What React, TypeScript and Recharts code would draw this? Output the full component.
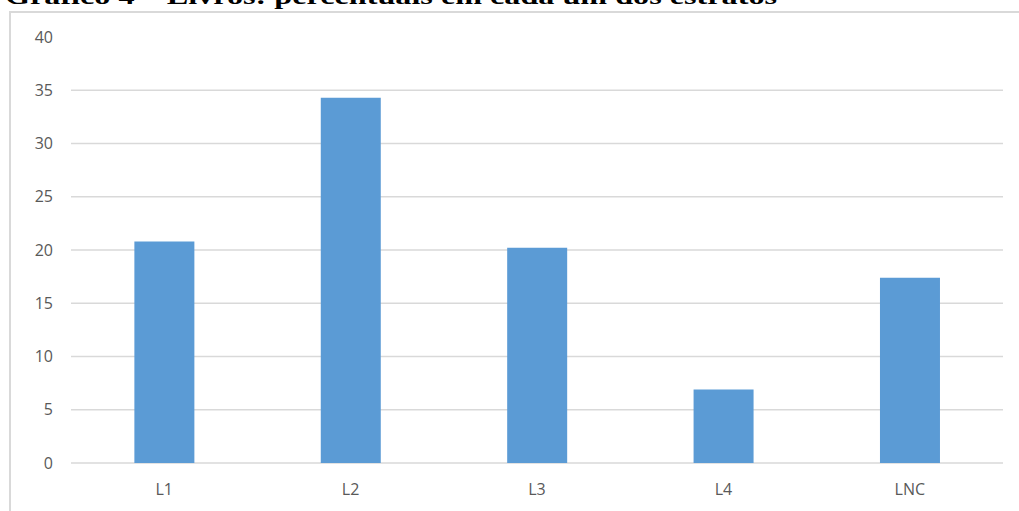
import React from "react"
import { BarChart, Bar, XAxis, YAxis, CartesianGrid } from "recharts"

const categories = ["L1", "L2", "L3", "L4", "LNC"]
const percentuais = [20.8, 34.3, 20.2, 6.9, 17.4]
const yTicks = [0, 5, 10, 15, 20, 25, 30, 35, 40]
const gridValues = [0, 5, 10, 15, 20, 25, 30, 35]
const title = "Gráfico 4 – Livros: percentuais em cada um dos estratos"

const data = categories.map((name, i) => ({ name, value: percentuais[i] }))

const tickStyle = { fill: "#595959", fontSize: 16, fontFamily: "'Open Sans', sans-serif" }

const App: React.FC = () => {
  return (
    <div style={{ position: "absolute", left: 0, top: 0, width: 1019, height: 511, overflow: "hidden", background: "#fff" }}>
      <div
        style={{
          position: "absolute",
          left: 9,
          top: 11,
          width: 1030,
          height: 520,
          border: "2px solid #d9d9d9",
          boxSizing: "border-box",
        }}
      />
      <svg style={{ position: "absolute", left: 0, top: 0 }} width={1019} height={30}>
        <text
          x={5}
          y={4}
          fontFamily="'Liberation Serif', 'Times New Roman', serif"
          fontWeight="bold"
          fontSize={24}
          textLength={772}
          lengthAdjust="spacingAndGlyphs"
          fill="#000"
        >
          {title}
        </text>
      </svg>
      <div style={{ position: "absolute", left: 0, top: 0 }}>
        <BarChart
          width={1019}
          height={511}
          data={data}
          margin={{ top: 37, right: 16, bottom: 0, left: 11 }}
          barCategoryGap="34%"
        >
          <CartesianGrid vertical={false} stroke="#d9d9d9" strokeWidth={1.5} horizontalValues={gridValues} />
          <XAxis
            dataKey="name"
            axisLine={false}
            tickLine={false}
            height={48}
            tick={tickStyle}
            tickMargin={15}
          />
          <YAxis
            domain={[0, 40]}
            ticks={yTicks}
            axisLine={false}
            tickLine={false}
            width={60}
            tick={tickStyle}
            tickMargin={12}
          />
          <Bar dataKey="value" fill="#5b9bd5" isAnimationActive={false} />
        </BarChart>
      </div>
    </div>
  )
}

export default App
